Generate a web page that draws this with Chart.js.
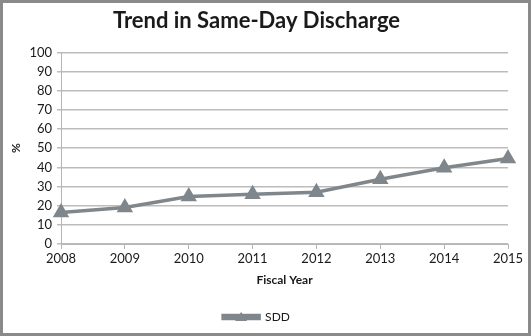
<!DOCTYPE html>
<html>
<head>
<meta charset="utf-8">
<script src="https://cdn.jsdelivr.net/npm/chart.js@4.4.1/dist/chart.umd.min.js"></script>
<style>
  html, body { margin: 0; padding: 0; background: #fff; }
  #wrap {
    width: 531px; height: 336px; box-sizing: border-box;
    border: 3px solid #8a8a8a; background: #fff; position: relative;
  }
  #chart { display: block; }
</style>
</head>
<body>
<div id="wrap"><canvas id="chart" width="525" height="330"></canvas></div>
<script>
// fiscal years and same-day discharge rate (%)
const years = ['2008', '2009', '2010', '2011', '2012', '2013', '2014', '2015'];
const sddValues = [16.5, 19, 24.8, 26, 27, 33.8, 39.8, 44.6];
const seriesLabel = 'SDD';

const lineGray = '#7f878c';
const textColor = '#1a1a1a';
const fontFamily = 'Lato, "Open Sans", sans-serif';

// draws the triangle marker on top of the legend line
const legendMarker = {
    id: 'legendMarker',
    afterDraw(chart) {
        const legend = chart.legend;
        if (!legend || !legend.legendHitBoxes) return;
        const ctx = chart.ctx;
        legend.legendHitBoxes.forEach(box => {
            const cx = box.left + 18;
            const cy = box.top + box.height / 2;
            ctx.save();
            ctx.fillStyle = lineGray;
            ctx.beginPath();
            ctx.moveTo(cx, cy - 5);
            ctx.lineTo(cx + 6, cy + 4);
            ctx.lineTo(cx - 6, cy + 4);
            ctx.closePath();
            ctx.fill();
            ctx.restore();
        });
    }
};

new Chart(document.getElementById('chart').getContext('2d'), {
    type: 'line',
    data: {
        labels: years,
        datasets: [{
            label: seriesLabel,
            data: sddValues,
            borderColor: lineGray,
            backgroundColor: lineGray,
            borderWidth: 3.5,
            pointStyle: 'triangle',
            pointRadius: 6,
            pointBackgroundColor: lineGray,
            pointBorderColor: lineGray,
            tension: 0,
            fill: false
        }]
    },
    options: {
        responsive: false,
        animation: false,
        layout: { padding: { left: 2, right: 20, top: 2, bottom: 0 } },
        plugins: {
            title: {
                display: true,
                text: 'Trend in Same-Day Discharge',
                color: textColor,
                font: { family: fontFamily, size: 22, weight: 'bold' },
                padding: { top: 3, bottom: 18 }
            },
            legend: {
                position: 'bottom',
                labels: {
                    color: textColor,
                    font: { family: fontFamily, size: 12 },
                    boxWidth: 36,
                    boxHeight: 3,
                    padding: 6
                }
            },
            tooltip: { enabled: false }
        },
        scales: {
            x: {
                offset: false,
                grid: {
                    drawOnChartArea: false,
                    drawTicks: true,
                    tickLength: 5,
                    color: '#b5b5b5'
                },
                border: { color: '#b5b5b5', width: 1 },
                ticks: {
                    color: textColor,
                    font: { family: fontFamily, size: 13 },
                    maxRotation: 0,
                    padding: 2
                },
                title: {
                    display: true,
                    text: 'Fiscal Year',
                    color: textColor,
                    font: { family: fontFamily, size: 12, weight: 'bold' },
                    padding: { top: 4, bottom: 18 }
                }
            },
            y: {
                min: 0,
                max: 100,
                ticks: {
                    stepSize: 10,
                    color: textColor,
                    font: { family: fontFamily, size: 13 },
                    padding: 5
                },
                grid: {
                    color: '#bcbcbc',
                    lineWidth: 1.5,
                    drawTicks: true,
                    tickLength: 4
                },
                border: { color: '#b5b5b5', width: 1 },
                title: {
                    display: true,
                    text: '%',
                    color: textColor,
                    font: { family: fontFamily, size: 12, weight: 'bold' },
                    padding: { bottom: 1 }
                }
            }
        }
    },
    plugins: [legendMarker]
});
</script>
</body>
</html>
